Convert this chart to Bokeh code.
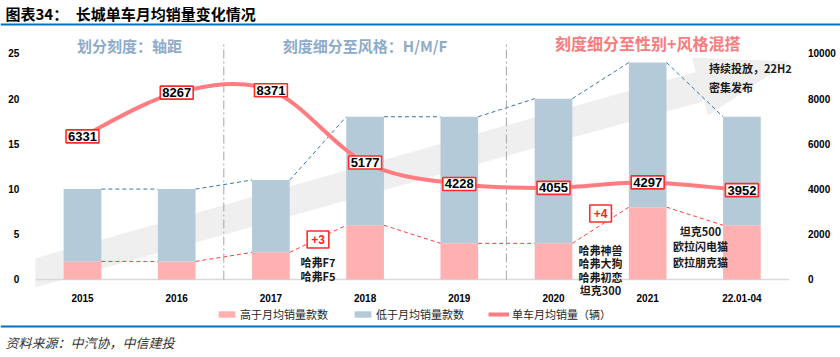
from bokeh.plotting import figure
from bokeh.models import (Range1d, LinearAxis, FixedTicker, Label, Span,
                          Legend, LegendItem, ColumnDataSource)
from bokeh.embed import file_html
from bokeh.resources import INLINE

# ---------------- data ----------------
categories = ["2015", "2016", "2017", "2018", "2019", "2020", "2021", "22.01-04"]
above_avg_models = [2, 2, 3, 6, 4, 4, 8, 6]        # 高于月均销量款数
below_avg_models = [8, 8, 8, 12, 14, 16, 16, 12]   # 低于月均销量款数
avg_monthly_sales = [6331, 8267, 8371, 5177, 4228, 4055, 4297, 3952]  # 单车月均销量（辆）
left_ticks = [0, 5, 10, 15, 20, 25]
right_ticks = [0, 2000, 4000, 6000, 8000, 10000]

chart_title = "图表34：\u3000长城单车月均销量变化情况"
source_note = "资料来源：中汽协，中信建投"
section_titles = ["划分刻度：轴距", "刻度细分至风格：H/M/F", "刻度细分至性别+风格混搭"]
notes_2018 = ["哈弗F7", "哈弗F5"]
notes_2021 = ["哈弗神兽", "哈弗大狗", "哈弗初恋", "坦克300"]
notes_2022 = ["坦克500", "欧拉闪电猫", "欧拉朋克猫"]
notes_future = ["持续投放，22H2", "密集发布"]
series_names = ["高于月均销量款数", "低于月均销量款数", "单车月均销量（辆）"]

# ---------------- style / layout ----------------
PINK = "#ffb1b1"
BLUE = "#b4cad8"
LINE = "#ff7c80"
HDR_BLUE = "#8eabc9"
HDR_RED = "#f87c7c"
RULE = "#0070c0"
CJK = "Noto Sans CJK SC"
NUM = "Liberation Sans"
W, H = 840, 357
X_LO, X_HI = -0.8705, 8.0467
Y_LO, Y_HI = -8.628, 30.86
RATIO = 400.0
BAR_W = 0.4

n = len(categories)
xs = list(range(n))
totals = [a + b for a, b in zip(above_avg_models, below_avg_models)]

p = figure(width=W, height=H, x_range=Range1d(X_LO, X_HI), y_range=Range1d(Y_LO, Y_HI),
           output_backend="svg", toolbar_location=None, min_border=0)
p.outline_line_color = None
p.xgrid.visible = False
p.ygrid.visible = False

# left axis (fixed inside frame)
ly = p.yaxis[0]
ly.ticker = FixedTicker(ticks=left_ticks)
ly.fixed_location = -0.5
# right axis
p.extra_y_ranges = {"right": Range1d(Y_LO * RATIO, Y_HI * RATIO)}
ry = LinearAxis(y_range_name="right", ticker=FixedTicker(ticks=right_ticks), fixed_location=7.5)
p.add_layout(ry, "right")
# x axis
xa = p.xaxis[0]
xa.ticker = FixedTicker(ticks=xs)
xa.major_label_overrides = {i: c for i, c in zip(xs, categories)}
xa.fixed_location = 0
for ax in (ly, ry, xa):
    ax.axis_line_color = None
    ax.major_tick_line_color = None
    ax.minor_tick_line_color = None
    ax.major_label_text_font = NUM
    ax.major_label_text_font_style = "bold"
    ax.major_label_text_font_size = "10px"
    ax.major_label_text_color = "#000000"
ly.major_label_standoff = 10
ry.major_label_standoff = 13
xa.major_label_standoff = 9

# background arrow (decorative), in data units
arrow_x = [-0.5, 6.51, 6.47, 7.51, 6.64, 6.60, -0.5]
arrow_y = [2.36, 22.95, 24.56, 24.12, 18.14, 19.75, -0.85]
p.patch(arrow_x, arrow_y, fill_color="#efefef", line_color=None)

# baseline
p.segment([-0.5], [0], [7.5], [0], line_color="#d9d9d9", line_width=1.5)

# stacked bars
src = ColumnDataSource(dict(x=xs, high=above_avg_models, low=below_avg_models))
bars = p.vbar_stack(["high", "low"], x="x", width=BAR_W, source=src,
                    color=[PINK, BLUE], line_color=None)

# dashed connectors
seg_x0 = [xs[i] + BAR_W / 2 for i in range(n - 1)]
seg_x1 = [xs[i + 1] - BAR_W / 2 for i in range(n - 1)]
p.segment(seg_x0, totals[:-1], seg_x1, totals[1:], line_color="#3b74a8",
          line_width=1, line_dash="4 3")
p.segment(seg_x0, above_avg_models[:-1], seg_x1, above_avg_models[1:],
          line_color="#ff3b3b", line_width=1, line_dash="4 3")

# separators
for loc in (1.5, 4.5):
    p.segment([loc], [0], [loc], [26.1], line_color="#a6a6a6", line_width=1,
              line_dash="9 3 2 3")

# smoothed line (Excel-like bezier smoothing)
bx0, by0, bx1, by1, cx0, cy0, cx1, cy1 = [], [], [], [], [], [], [], []
for i in range(n - 1):
    pxm, pym = (xs[i - 1], avg_monthly_sales[i - 1]) if i > 0 else (xs[i], avg_monthly_sales[i])
    pxp, pyp = (xs[i + 2], avg_monthly_sales[i + 2]) if i + 2 < n else (xs[i + 1], avg_monthly_sales[i + 1])
    x0, y0, x1, y1 = xs[i], avg_monthly_sales[i], xs[i + 1], avg_monthly_sales[i + 1]
    bx0.append(x0); by0.append(y0); bx1.append(x1); by1.append(y1)
    cx0.append(x0 + (x1 - pxm) / 6.0); cy0.append(y0 + (y1 - pym) / 6.0)
    cx1.append(x1 - (pxp - x0) / 6.0); cy1.append(y1 - (pyp - y0) / 6.0)
line_r = p.bezier(x0=bx0, y0=by0, x1=bx1, y1=by1, cx0=cx0, cy0=cy0, cx1=cx1, cy1=cy1,
                  line_color=LINE, line_width=4, y_range_name="right")

# value boxes
for x, v in zip(xs, avg_monthly_sales):
    p.add_layout(Label(x=x, y=v, y_range_name="right", text=str(v), text_align="center",
                       text_baseline="middle", text_font=NUM, text_font_style="bold",
                       text_font_size="13px", text_color="#000000",
                       background_fill_color="white", border_line_color="#ff2b2b",
                       border_line_width=1.6, padding=2))

# delta boxes
for (i, j), (bx, byv) in zip([(2, 3), (5, 6)], [(2.5, 4.42), (5.5, 7.3)]):
    d = above_avg_models[j] - above_avg_models[i]
    p.add_layout(Label(x=bx, y=byv, text=f"+{d}", text_align="center", text_baseline="middle",
                       text_font=NUM, text_font_style="bold", text_font_size="12px",
                       text_color="#ff2020", background_fill_color="white",
                       border_line_color="#ff2b2b", border_line_width=1.6, padding=4))


def note(txt, x, y, align="center", size="11px"):
    p.add_layout(Label(x=x, y=y, text=txt, text_align=align, text_baseline="middle",
                       text_font=CJK, text_font_style="bold", text_font_size=size,
                       text_color="#1a1a1a"))


for t, y in zip(notes_2018, [1.99, 0.44]):
    note(t, 2.5, y)
for t, y in zip(notes_2021, [3.21, 1.77, 0.33, -1.11]):
    note(t, 5.5, y)
for t, y in zip(notes_2022, [5.31, 3.65, 1.99]):
    note(t, 6.56, y)
for t, y in zip(notes_future, [23.34, 21.24]):
    note(t, 6.65, y, align="left", size="11px")

# section headers
for t, x, y, c, s in zip(section_titles, [0.5, 3.0, 6.0], [25.88, 25.88, 26.2],
                         [HDR_BLUE, HDR_BLUE, HDR_RED], ["15px", "15px", "16px"]):
    p.add_layout(Label(x=x, y=y, text=t, text_align="center", text_baseline="middle",
                       text_font=CJK, text_font_style="bold", text_font_size=s, text_color=c))

# legend
legend = Legend(items=[LegendItem(label=series_names[0], renderers=[bars[0]]),
                       LegendItem(label=series_names[1], renderers=[bars[1]]),
                       LegendItem(label=series_names[2], renderers=[line_r])],
                orientation="horizontal", location=(216, 35), padding=0, margin=0,
                spacing=24, glyph_width=21, glyph_height=8,
                label_standoff=3, label_text_font=CJK, label_text_font_size="11px",
                label_text_color="#262626", border_line_color=None,
                background_fill_alpha=0)
p.add_layout(legend, "center")

# title, rules, footer
p.add_layout(Label(x=5, y=H - 13, x_units="screen", y_units="screen", text=chart_title,
                   text_align="left", text_baseline="middle", text_font=CJK,
                   text_font_style="bold", text_font_size="15px", text_color="#000000"))
p.add_layout(Span(location=28.21, dimension="width", line_color=RULE, line_width=2))
p.add_layout(Span(location=-5.2, dimension="width", line_color=RULE, line_width=2))
p.add_layout(Label(x=5, y=H - 342, x_units="screen", y_units="screen", text=source_note,
                   text_align="left", text_baseline="middle", text_font=CJK,
                   text_font_style="italic", text_font_size="13px", text_color="#333333"))

open("out.html", "w").write(file_html(p, INLINE))
